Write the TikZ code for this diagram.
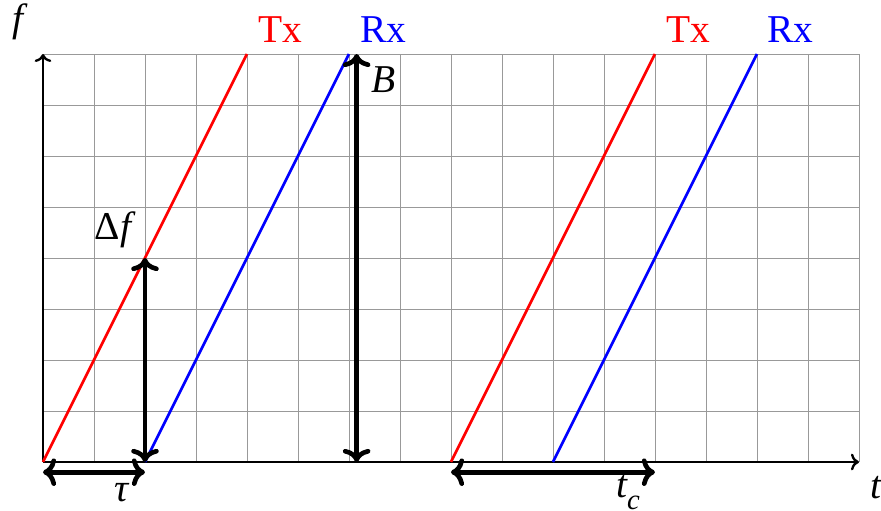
\documentclass[tikz,border=0pt]{standalone}
\usepackage{fontspec}
\setmainfont{Liberation Serif}
\usetikzlibrary{arrows.meta}
\tikzset{
  gridline/.style={black!40, line width=0.5pt},
  axis/.style={->, line width=1.3pt},
  txline/.style={red, line width=1.5pt},
  rxline/.style={blue, line width=1.5pt},
  meas/.style={<->, line width=2.6pt},
  lab/.style={font=\fontsize{22}{26}\selectfont, inner sep=0pt}
}
\begin{document}
\begin{tikzpicture}
\useasboundingbox (-0.843,-0.961) rectangle (16.432,9.059);
\draw[gridline] (0,0) grid (16,8);
% axes
\coordinate (O) at (0,0);
\coordinate (xend) at (16,0);
\coordinate (yend) at (0,8);
\draw[axis] (O) -- (xend);
\draw[axis] (O) -- (yend);
% chirps
\coordinate (t1a) at (0,0); \coordinate (t1b) at (4,8);
\coordinate (r1a) at (2,0); \coordinate (r1b) at (6,8);
\coordinate (t2a) at (8,0); \coordinate (t2b) at (12,8);
\coordinate (r2a) at (10,0); \coordinate (r2b) at (14,8);
\draw[txline] (t1a) -- (t1b);
\draw[rxline] (r1a) -- (r1b);
\draw[txline] (t2a) -- (t2b);
\draw[rxline] (r2a) -- (r2b);
% measures
\coordinate (df0) at (2,0); \coordinate (df1) at (2,4);
\draw[meas] (df0) -- (df1);
\coordinate (b0) at (6.15,0); \coordinate (b1) at (6.15,8);
\draw[meas] (b0) -- (b1);
\coordinate (ta0) at (0,-0.2); \coordinate (ta1) at (2,-0.2);
\draw[meas] (ta0) -- (ta1);
\coordinate (tc0) at (8,-0.2); \coordinate (tc1) at (12,-0.2);
\draw[meas] (tc0) -- (tc1);
% labels
\node[lab] (lf) at (-0.49,8.63) {\itshape f};
\node[lab] (lt) at (16.33,-0.51) {\itshape t};
\node[lab, text=red] (tx1) at (4.65,8.47) {Tx};
\node[lab, text=blue] (rx1) at (6.67,8.47) {Rx};
\node[lab, text=red] (tx2) at (12.65,8.47) {Tx};
\node[lab, text=blue] (rx2) at (14.65,8.47) {Rx};
\node[lab] (lb) at (6.67,7.49) {\itshape B};
\node[lab] (ldf) at (1.37,4.55) {Δ\itshape f};
\node[lab] (ltau) at (1.55,-0.61) {\itshape τ};
\node[lab] (ltc) at (11.47,-0.6) {\itshape t\raisebox{-0.3em}{\fontsize{16}{19}\selectfont c}};
\end{tikzpicture}
\end{document}
